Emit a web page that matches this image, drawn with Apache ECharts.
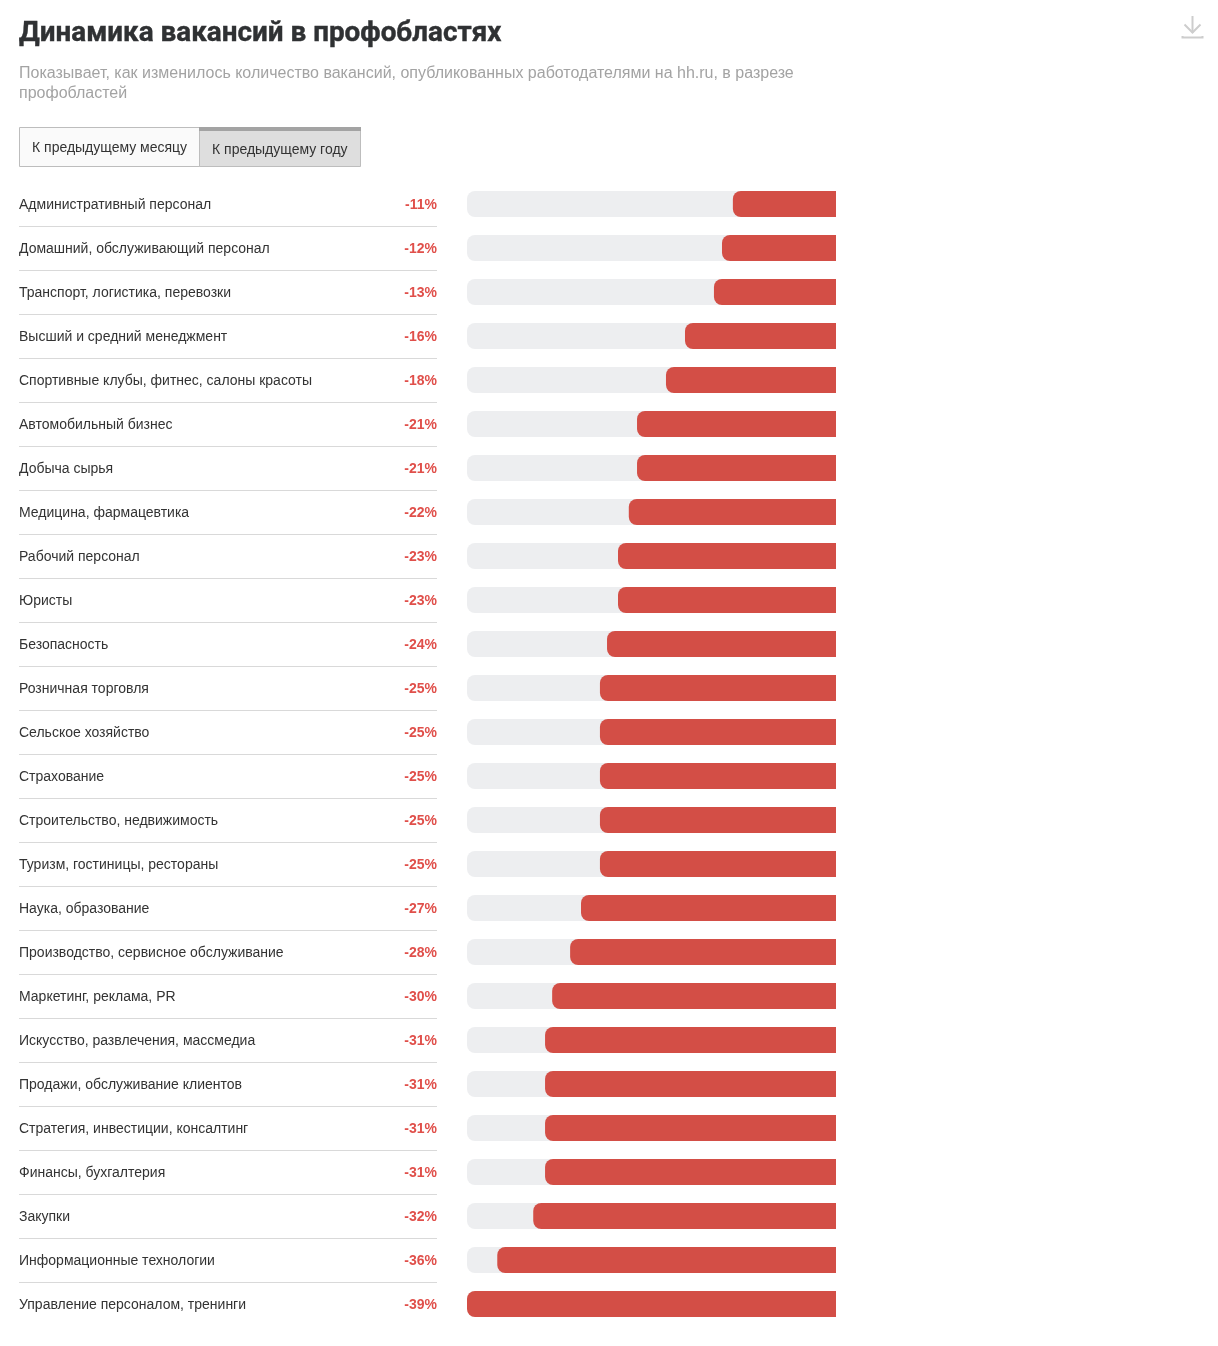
<!DOCTYPE html>
<html><head><meta charset="utf-8">
<style>html,body{margin:0;padding:0;background:#fff}#c{width:1218px;height:1346px}</style>
<script src="https://cdn.jsdelivr.net/npm/echarts@6/dist/echarts.min.js"></script>
</head><body><div id="c"></div>
<script>
const titleText = 'Динамика вакансий в профобластях';
const subtitleText = 'Показывает, как изменилось количество вакансий, опубликованных работодателями на hh.ru, в разрезе\nпрофобластей';
const tabLabels = ['К предыдущему месяцу', 'К предыдущему году'];
const categories = ['Административный персонал','Домашний, обслуживающий персонал','Транспорт, логистика, перевозки','Высший и средний менеджмент','Спортивные клубы, фитнес, салоны красоты','Автомобильный бизнес','Добыча сырья','Медицина, фармацевтика','Рабочий персонал','Юристы','Безопасность','Розничная торговля','Сельское хозяйство','Страхование','Строительство, недвижимость','Туризм, гостиницы, рестораны','Наука, образование','Производство, сервисное обслуживание','Маркетинг, реклама, PR','Искусство, развлечения, массмедиа','Продажи, обслуживание клиентов','Стратегия, инвестиции, консалтинг','Финансы, бухгалтерия','Закупки','Информационные технологии','Управление персоналом, тренинги'];
const values = [-10.9,-12.05,-12.9,-15.96,-17.97,-21.03,-21.03,-21.9,-23.04,-23.04,-24.2,-24.95,-24.95,-24.95,-24.95,-24.95,-26.95,-28.1,-30,-30.75,-30.75,-30.75,-30.75,-32,-35.8,-39];
const pctLabels = ['-11%','-12%','-13%','-16%','-18%','-21%','-21%','-22%','-23%','-23%','-24%','-25%','-25%','-25%','-25%','-25%','-27%','-28%','-30%','-31%','-31%','-31%','-31%','-32%','-36%','-39%'];

const sans = '"Liberation Sans", Arial, sans-serif';
const chart = echarts.init(document.getElementById('c'), null, {renderer:'canvas'});
chart.setOption({
  animation:false,
  backgroundColor:'#fff',
  title:[
    {text:titleText,left:19,top:17,padding:0,textStyle:{fontFamily:'Roboto',fontWeight:700,fontSize:27.85,color:'#2f3133',lineHeight:34,textBorderColor:'#2f3133',textBorderWidth:0.4}},
    {text:subtitleText,left:19,top:64,padding:0,textStyle:{fontFamily:sans,fontWeight:400,fontSize:16,color:'#a3a3a3',lineHeight:20}}
  ],
  grid:[
    {left:467,top:182,width:369,height:1144},
    {left:19,top:182,width:418,height:1144},
    {left:19,top:183,width:418,height:1144}
  ],
  xAxis:[
    {gridIndex:0,type:'value',min:-39,max:0,show:false},
    {gridIndex:1,type:'value',min:0,max:1,show:false},
    {gridIndex:2,type:'value',min:0,max:1,show:false}
  ],
  yAxis:[
    {gridIndex:0,type:'category',inverse:true,data:categories,show:false},
    {gridIndex:1,type:'category',inverse:true,data:categories,
      axisLine:{show:false},axisTick:{show:false},axisLabel:{show:false},
      splitLine:{show:true,showMinLine:false,showMaxLine:false,lineStyle:{color:'#d9d9d9',width:1}}},
    {gridIndex:2,type:'category',inverse:true,data:categories,position:'left',
      axisLine:{show:false},axisTick:{show:false},splitLine:{show:false},
      axisLabel:{inside:true,margin:0,align:'left',interval:0,fontFamily:sans,fontSize:14,color:'#333'}},
    {gridIndex:2,type:'category',inverse:true,data:pctLabels,position:'right',
      axisLine:{show:false},axisTick:{show:false},splitLine:{show:false},
      axisLabel:{inside:true,margin:0,align:'right',interval:0,fontFamily:sans,fontSize:14,fontWeight:700,color:'#e04f4a'}}
  ],
  series:[{
    type:'bar',xAxisIndex:0,yAxisIndex:0,data:values,barWidth:26,
    showBackground:true,
    backgroundStyle:{color:'#edeef0',borderRadius:[8,0,0,8]},
    itemStyle:{color:'#d34e46',borderRadius:[8,0,0,8]}
  }],
  graphic:[
    {type:'rect',shape:{x:19.5,y:127.5,width:180,height:39},style:{fill:'#fafafa',stroke:'#bdbdbd',lineWidth:1}},
    {type:'rect',shape:{x:199.5,y:127.5,width:161,height:39},style:{fill:'#dedede',stroke:'#bdbdbd',lineWidth:1}},
    {type:'rect',shape:{x:199,y:127,width:162,height:4},style:{fill:'#a3a3a3'}},
    {type:'text',x:32,y:148,style:{text:tabLabels[0],font:'14px '+sans,fill:'#333',textVerticalAlign:'middle'}},
    {type:'text',x:212,y:150,style:{text:tabLabels[1],font:'14px '+sans,fill:'#333',textVerticalAlign:'middle'}},
    {type:'polyline',shape:{points:[[1192.5,16],[1192.5,33]]},style:{stroke:'#cdcdcd',lineWidth:2,fill:null}},
    {type:'polyline',shape:{points:[[1184.5,24.5],[1192.5,32.5],[1200.5,24.5]]},style:{stroke:'#cdcdcd',lineWidth:2,fill:null}},
    {type:'polyline',shape:{points:[[1182.5,36],[1182.5,37.5],[1202.5,37.5],[1202.5,36]]},style:{stroke:'#cdcdcd',lineWidth:2,fill:null}}
  ]
});
</script></body></html>
